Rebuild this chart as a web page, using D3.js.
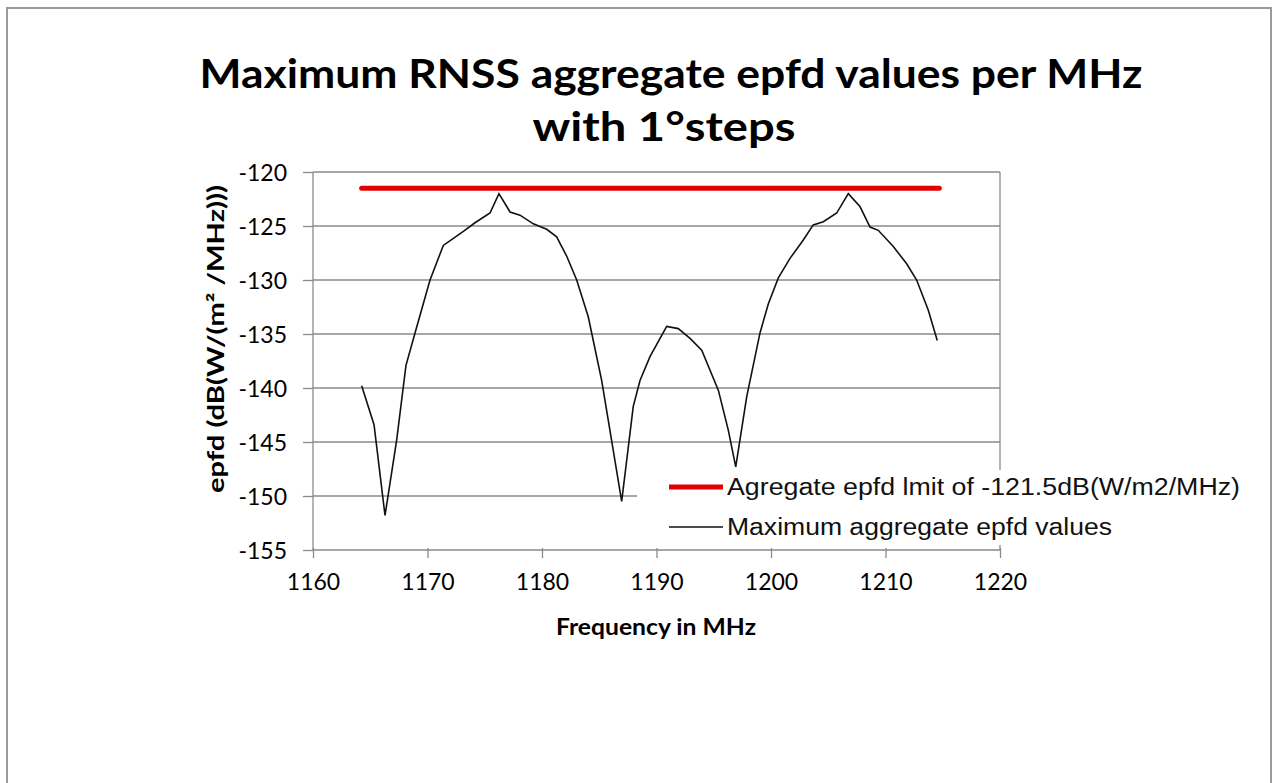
<!DOCTYPE html>
<html>
<head>
<meta charset="utf-8">
<script src="https://cdn.jsdelivr.net/npm/d3@7"></script>
<style>
  body { margin: 0; background: #fff; }
  svg { display: block; }
</style>
</head>
<body>
<div id="chart"></div>
<script>
// data
var freqs = [1164.25, 1165.33, 1166.29, 1167.31, 1168.12, 1168.91, 1170.22, 1171.38, 1173.13, 1174.15,
  1175.46, 1176.24, 1177.21, 1178.08, 1179.24, 1180.41, 1181.28, 1182.16, 1183.03, 1184.04,
  1185.21, 1186.96, 1187.97, 1188.56, 1189.43, 1190.89, 1191.90, 1192.93, 1193.95, 1195.40,
  1196.27, 1196.92, 1197.88, 1199.04, 1199.77, 1200.64, 1201.66, 1202.82, 1203.69, 1204.57,
  1205.74, 1206.75, 1207.77, 1208.65, 1209.37, 1210.68, 1211.85, 1212.72, 1213.74, 1214.52];
var epfdValues = [-139.8, -143.4, -151.8, -144.8, -137.9, -134.9, -130.0, -126.8, -125.5, -124.7,
  -123.8, -122.0, -123.7, -124.0, -124.8, -125.3, -126.0, -127.8, -130.0, -133.4,
  -139.3, -150.5, -141.7, -139.3, -137.1, -134.3, -134.5, -135.4, -136.5, -140.2,
  -143.9, -147.3, -140.8, -134.9, -132.2, -129.8, -128.0, -126.3, -124.9, -124.6,
  -123.8, -122.0, -123.2, -125.1, -125.4, -126.9, -128.5, -130.0, -132.8, -135.6];
var limitFreqs = [1164.25, 1214.7];
var limitValue = -121.5;
var xTicks = [1160, 1170, 1180, 1190, 1200, 1210, 1220];
var yTicks = [-155, -150, -145, -140, -135, -130, -125, -120];
var titleLines = ['Maximum RNSS aggregate epfd values per MHz', 'with 1\u00b0steps'];
var seriesNames = ['Agregate epfd lmit of -121.5dB(W/m2/MHz)', 'Maximum aggregate epfd values'];

var W = 1274, H = 783;
var plot = {left: 313, right: 1000, top: 172, bottom: 550};

var svg = d3.select('#chart').append('svg')
  .attr('width', W)
  .attr('height', H);

// outer frame
svg.append('rect')
  .attr('x', 7).attr('y', 8)
  .attr('width', 1264).attr('height', 800)
  .attr('fill', '#fff')
  .attr('stroke', '#9a9a9a')
  .attr('stroke-width', 2);

var x = d3.scaleLinear().domain([1160, 1220]).range([plot.left, plot.right]);
var y = d3.scaleLinear().domain([-155, -120]).range([plot.bottom, plot.top]);

// title
svg.append('g').selectAll('text').data(titleLines)
  .enter().append('text')
  .attr('x', function(d, i) { return i == 0 ? 671 : 664; })
  .attr('y', function(d, i) { return 88 + i * 53; })
  .attr('text-anchor', 'middle')
  .style('font-family', 'Lato, sans-serif')
  .style('font-weight', 'bold')
  .style('font-size', '41px')
  .attr('textLength', function(d, i) { return i == 0 ? 943 : 263; })
  .attr('lengthAdjust', 'spacingAndGlyphs')
  .text(function(d) { return d; });

// gridlines
svg.append('g').selectAll('line').data(yTicks.filter(function(d) { return d > -155; }))
  .enter().append('line')
  .attr('x1', plot.left).attr('x2', plot.right)
  .attr('y1', function(d) { return y(d); })
  .attr('y2', function(d) { return y(d); })
  .attr('stroke', '#8a8a8a')
  .attr('stroke-width', 1.3);

// right border of the plot area
svg.append('line')
  .attr('x1', plot.right).attr('x2', plot.right)
  .attr('y1', plot.top).attr('y2', plot.bottom)
  .attr('stroke', '#8a8a8a')
  .attr('stroke-width', 1.3);

// axes (hyphen minus like the original)
var hyphenFmt = function(d) { return String(d).replace('\u2212', '-'); };
var yAxis = d3.axisLeft(y).tickValues(yTicks).tickSize(10).tickPadding(16).tickFormat(hyphenFmt);
var yG = svg.append('g')
  .attr('transform', 'translate(' + plot.left + ',0)')
  .call(yAxis);

var xAxis = d3.axisBottom(x).tickValues(xTicks).tickSize(8).tickPadding(16).tickFormat(hyphenFmt);
var xG = svg.append('g')
  .attr('transform', 'translate(0,' + plot.bottom + ')')
  .call(xAxis);

[yG, xG].forEach(function(g) {
  g.select('.domain').attr('stroke', '#8a8a8a').attr('stroke-width', 1.3);
  g.selectAll('.tick line').attr('stroke', '#8a8a8a').attr('stroke-width', 1.3);
  g.selectAll('.tick text')
    .style('font-family', 'Lato, sans-serif')
    .style('font-size', '23px')
    .attr('fill', '#000');
});
// x ticks cross the axis a little
xG.selectAll('.tick line').attr('y1', -2);
xG.select('.domain').attr('d', 'M' + plot.left + ',0H' + plot.right);
yG.select('.domain').attr('d', 'M0,' + plot.top + 'V' + plot.bottom);
yG.selectAll('.tick text').attr('dy', '0.36em');

// axis titles
svg.append('text')
  .attr('x', 656).attr('y', 635)
  .attr('text-anchor', 'middle')
  .style('font-family', 'Lato, sans-serif')
  .style('font-weight', 'bold')
  .style('font-size', '22px')
  .attr('textLength', 200)
  .attr('lengthAdjust', 'spacingAndGlyphs')
  .text('Frequency in MHz');

svg.append('text')
  .attr('transform', 'translate(224,339) rotate(-90)')
  .attr('text-anchor', 'middle')
  .style('font-family', 'Lato, sans-serif')
  .style('font-weight', 'bold')
  .style('font-size', '22px')
  .attr('textLength', 308)
  .attr('lengthAdjust', 'spacingAndGlyphs')
  .text('epfd (dB(W/(m\u00b2 /MHz)))');

// series
var line = d3.line()
  .x(function(d) { return x(d[0]); })
  .y(function(d) { return y(d[1]); });

svg.append('path')
  .datum(limitFreqs.map(function(f) { return [f, limitValue]; }))
  .attr('d', line)
  .attr('fill', 'none')
  .attr('stroke', '#e00000')
  .attr('stroke-width', 5)
  .attr('stroke-linecap', 'round');

svg.append('path')
  .datum(d3.zip(freqs, epfdValues))
  .attr('d', line)
  .attr('fill', 'none')
  .attr('stroke', '#111')
  .attr('stroke-width', 1.6);

// legend
var legend = svg.append('g');
legend.append('rect')
  .attr('x', 637).attr('y', 470)
  .attr('width', 612).attr('height', 75)
  .attr('fill', '#fff');

var legendColors = ['#e00000', '#111'];
var legendWidths = [5, 1.6];
var legendLens = [513, 385];
var items = legend.selectAll('.item').data(seriesNames)
  .enter().append('g')
  .attr('class', 'item')
  .attr('transform', function(d, i) { return 'translate(0,' + (487 + i * 40) + ')'; });

items.append('line')
  .attr('x1', 669).attr('x2', 723)
  .attr('stroke', function(d, i) { return legendColors[i]; })
  .attr('stroke-width', function(d, i) { return legendWidths[i]; });

items.append('text')
  .attr('x', 727).attr('y', 8)
  .style('font-family', '"Liberation Sans", Arial, sans-serif')
  .style('font-size', '23px')
  .attr('fill', '#111')
  .attr('textLength', function(d, i) { return legendLens[i]; })
  .attr('lengthAdjust', 'spacingAndGlyphs')
  .text(function(d) { return d; });
</script>
</body>
</html>
